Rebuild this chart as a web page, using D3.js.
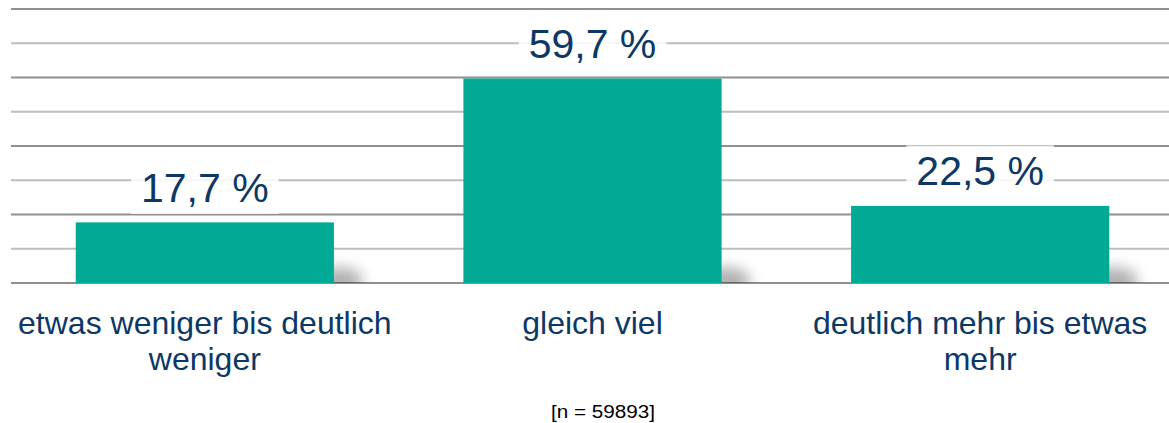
<!DOCTYPE html>
<html>
<head>
    <meta charset="utf-8">
    <script type="text/javascript" src="https://d3js.org/d3.v7.min.js"></script>
    <style>
        body { margin: 0; background: #ffffff; }
        text { font-family: "Liberation Sans", Arial, sans-serif; }
    </style>
</head>
<body>
    <div id="chart"></div>
    <script type="text/javascript">
        // data
        const categories = [
            ["etwas weniger bis deutlich", "weniger"],
            ["gleich viel"],
            ["deutlich mehr bis etwas", "mehr"]
        ];
        const values = [17.7, 59.7, 22.5];
        const valueLabels = ["17,7 %", "59,7 %", "22,5 %"];
        const gridTicks = [0, 10, 20, 30, 40, 50, 60, 70, 80];
        const footnote = "[n = 59893]";

        // layout constants
        const width = 1169;
        const height = 423;
        const barColor = "rgb(0,170,149)";
        const textColor = "rgb(12,56,102)";

        const svg = d3.select("#chart")
            .append("svg")
            .attr("width", width)
            .attr("height", height);

        const x = d3.scaleBand()
            .domain(d3.range(categories.length))
            .range([11, 1174])
            .paddingInner(0.334)
            .paddingOuter(0.167);

        const y = d3.scaleLinear()
            .domain([0, 80])
            .range([283, 9]);

        // shadow filter for the soft bottom-right shadow of each bar
        const defs = svg.append("defs");
        defs.append("filter")
            .attr("id", "blur")
            .attr("x", "-100%").attr("y", "-100%")
            .attr("width", "300%").attr("height", "300%")
            .append("feGaussianBlur")
            .attr("stdDeviation", 7);
        defs.append("clipPath")
            .attr("id", "aboveBase")
            .append("rect")
            .attr("x", 0).attr("y", 0)
            .attr("width", width).attr("height", y(0));

        // gridlines: darker every 20, lighter in between
        svg.append("g")
            .selectAll("line")
            .data(gridTicks)
            .enter()
            .append("line")
            .attr("x1", 11)
            .attr("x2", width)
            .attr("y1", d => y(d))
            .attr("y2", d => y(d))
            .style("stroke", d => d % 20 === 0 ? "#8f8f8f" : "#bdbdbd")
            .style("stroke-width", 2);

        // shadows
        svg.append("g")
            .attr("clip-path", "url(#aboveBase)")
            .selectAll("ellipse")
            .data(values)
            .enter()
            .append("ellipse")
            .attr("cx", (d, i) => x(i) + x.bandwidth() + 4)
            .attr("cy", y(0) - 2)
            .attr("rx", 25)
            .attr("ry", 14)
            .style("fill", "#000")
            .style("opacity", 0.3)
            .attr("filter", "url(#blur)");

        // bars
        svg.append("g")
            .selectAll("rect")
            .data(values)
            .enter()
            .append("rect")
            .attr("x", (d, i) => x(i))
            .attr("y", d => y(d))
            .attr("width", x.bandwidth())
            .attr("height", d => y(0) - y(d))
            .style("fill", barColor);

        // value labels with a translucent white box behind
        const labels = svg.append("g")
            .selectAll("g")
            .data(values)
            .enter()
            .append("g");

        labels.append("text")
            .attr("x", (d, i) => x(i) + x.bandwidth() / 2)
            .attr("y", d => y(d) - 20.5)
            .attr("text-anchor", "middle")
            .style("font-size", "41px")
            .style("fill", textColor)
            .text((d, i) => valueLabels[i]);

        labels.each(function () {
            const g = d3.select(this);
            const bb = g.select("text").node().getBBox();
            g.insert("rect", "text")
                .attr("x", bb.x - 10)
                .attr("y", bb.y - 3)
                .attr("width", bb.width + 20)
                .attr("height", bb.height + 6)
                .style("fill", "#ffffff")
                .style("opacity", 0.85);
        });

        // category labels
        svg.append("g")
            .selectAll("text")
            .data(categories)
            .enter()
            .append("text")
            .attr("text-anchor", "middle")
            .style("font-size", "32px")
            .style("fill", textColor)
            .each(function (d, i) {
                const t = d3.select(this);
                d.forEach((line, k) => {
                    t.append("tspan")
                        .attr("x", x(i) + x.bandwidth() / 2)
                        .attr("y", 334 + k * 36)
                        .text(line);
                });
            });

        // footnote
        svg.append("text")
            .attr("x", 603)
            .attr("y", 418)
            .attr("text-anchor", "middle")
            .attr("textLength", 104)
            .attr("lengthAdjust", "spacingAndGlyphs")
            .style("font-size", "18px")
            .style("fill", "#000")
            .text(footnote);
    </script>
</body>
</html>
